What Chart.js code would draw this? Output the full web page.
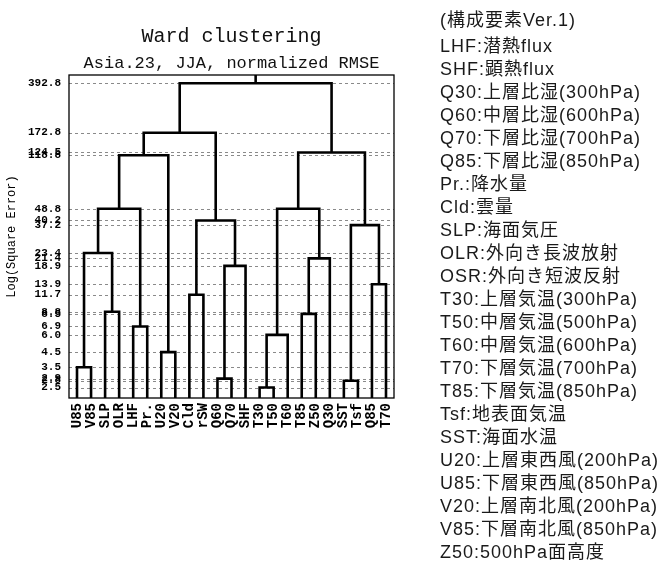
<!DOCTYPE html>
<html>
<head>
<meta charset="utf-8">
<script src="https://cdn.jsdelivr.net/npm/chart.js@4.4.0/dist/chart.umd.min.js"></script>
<style>
  html, body { margin: 0; padding: 0; background: #fff; }
  #wrap { width: 668px; height: 562px; position: relative; }
</style>
</head>
<body>
<div id="wrap"><canvas id="c" width="668" height="562"></canvas></div>
<script>
// Leaves in dendrogram order
const leafLabels = ['U85','V85','SLP','OLR','LHF','Pr.','U20','V20','Cld','rSW','Q60','Q70','SHF',
                    'T30','T50','T60','T85','Z50','Q30','SST','Tsf','Q85','T70'];

// Ward merges: child ids are leaf indices (0..22) or 23 + merge index
const mergeLeft   = [0, 2, 4, 6, 8, 10, 28, 13, 30, 16, 32, 19, 21, 34, 23, 37, 38, 27, 39, 31, 42, 41];
const mergeRight  = [1, 3, 5, 7, 9, 11, 12, 14, 15, 17, 18, 20, 22, 35, 24, 25, 26, 29, 40, 33, 36, 43];
const mergeHeight = [3.5, 8.8, 6.9, 4.5, 11.7, 2.9, 18.9, 2.5, 6.0, 8.5, 21.4, 2.8, 13.9, 37.2,
                     23.4, 48.8, 118.8, 40.2, 172.8, 48.8, 124.5, 392.8];

// Side notes
const noteHeading = '(構成要素Ver.1)';
const noteLines = [
  'LHF:潜熱flux', 'SHF:顕熱flux',
  'Q30:上層比湿(300hPa)', 'Q60:中層比湿(600hPa)', 'Q70:下層比湿(700hPa)', 'Q85:下層比湿(850hPa)',
  'Pr.:降水量', 'Cld:雲量', 'SLP:海面気圧', 'OLR:外向き長波放射', 'OSR:外向き短波反射',
  'T30:上層気温(300hPa)', 'T50:中層気温(500hPa)', 'T60:中層気温(600hPa)', 'T70:下層気温(700hPa)',
  'T85:下層気温(850hPa)', 'Tsf:地表面気温', 'SST:海面水温',
  'U20:上層東西風(200hPa)', 'U85:下層東西風(850hPa)', 'V20:上層南北風(200hPa)', 'V85:下層南北風(850hPa)',
  'Z50:500hPa面高度'
];

const Y_MIN = 2.1, Y_MAX = 451;
const nLeaf = leafLabels.length;

// Node positions: leaves sit on the axis floor, clusters centred over children
const nodeX = leafLabels.map((_, i) => i);
const nodeY = leafLabels.map(() => Y_MIN);
mergeHeight.forEach((h, k) => {
  const a = mergeLeft[k], b = mergeRight[k];
  nodeX.push((nodeX[a] + nodeX[b]) / 2);
  nodeY.push(h);
});

const datasets = mergeHeight.map((h, k) => {
  const a = mergeLeft[k], b = mergeRight[k];
  return {
    data: [
      { x: nodeX[a], y: nodeY[a] }, { x: nodeX[a], y: h },
      { x: nodeX[b], y: h },        { x: nodeX[b], y: nodeY[b] }
    ],
    borderColor: '#000', borderWidth: 2.6, pointRadius: 0, tension: 0, fill: false, clip: false
  };
});
const rootId = nLeaf + mergeHeight.length - 1;
datasets.push({
  data: [{ x: nodeX[rootId], y: nodeY[rootId] }, { x: nodeX[rootId], y: Y_MAX }],
  borderColor: '#000', borderWidth: 2.6, pointRadius: 0, fill: false, clip: false
});

const tickValues = [...new Set(mergeHeight)].sort((p, q) => p - q);

const decor = {
  id: 'decor',
  beforeDatasetsDraw(chart) {
    const ctx = chart.ctx, ca = chart.chartArea, ys = chart.scales.y;
    ctx.save();
    ctx.strokeStyle = '#8a8a8a';
    ctx.lineWidth = 1;
    ctx.setLineDash([3, 3]);
    tickValues.forEach(v => {
      const y = Math.round(ys.getPixelForValue(v)) + 0.5;
      ctx.beginPath(); ctx.moveTo(ca.left, y); ctx.lineTo(ca.right, y); ctx.stroke();
    });
    ctx.restore();
  },
  afterDatasetsDraw(chart) {
    const ctx = chart.ctx, ca = chart.chartArea;
    ctx.save();
    ctx.strokeStyle = '#000';
    ctx.lineWidth = 1.3;
    ctx.strokeRect(ca.left, ca.top, ca.right - ca.left, ca.bottom - ca.top);
    // titles
    const cx = (ca.left + ca.right) / 2;
    ctx.fillStyle = '#111';
    ctx.textAlign = 'center';
    ctx.textBaseline = 'middle';
    ctx.font = '20px "Liberation Mono", monospace';
    ctx.fillText('Ward clustering', cx, 37);
    ctx.font = '17px "Liberation Mono", monospace';
    ctx.fillText('Asia.23, JJA, normalized RMSE', cx, 63);
    // side notes
    ctx.textAlign = 'left';
    ctx.fillStyle = '#1a1a1a';
    ctx.font = '18px "Liberation Sans", "Noto Sans CJK JP", sans-serif';
    if ('letterSpacing' in ctx) ctx.letterSpacing = '1px';
    ctx.fillText(noteHeading, 440, 21);
    noteLines.forEach((s, i) => ctx.fillText(s, 440, 47 + 23 * i));
    ctx.restore();
  }
};

new Chart(document.getElementById('c'), {
  type: 'line',
  data: { datasets },
  options: {
    responsive: false,
    animation: false,
    events: [],
    layout: { padding: { left: 0, top: 75, right: 274, bottom: 104 } },
    plugins: { legend: { display: false }, tooltip: { enabled: false }, title: { display: false } },
    scales: {
      x: {
        type: 'linear', min: -0.57, max: nLeaf - 1 + 0.57,
        grid: { display: false, drawTicks: false }, border: { display: false },
        afterBuildTicks(s) { s.ticks = leafLabels.map((_, i) => ({ value: i })); },
        afterFit(s) { s.height = 60; s.paddingLeft = 0; s.paddingRight = 0; },
        ticks: {
          autoSkip: false, minRotation: 90, maxRotation: 90, padding: 5,
          color: '#000', font: { family: '"Liberation Mono", monospace', size: 14, weight: 'bold' },
          callback: v => leafLabels[v]
        }
      },
      y: {
        type: 'logarithmic', min: Y_MIN, max: Y_MAX,
        grid: { display: false, drawTicks: false }, border: { display: false },
        afterBuildTicks(s) { s.ticks = tickValues.map(v => ({ value: v })); },
        afterFit(s) { s.width = 69; s.paddingTop = 0; s.paddingBottom = 0; },
        ticks: {
          autoSkip: false, padding: 8, color: '#000',
          font: { family: '"Liberation Mono", monospace', size: 11, weight: 'bold' },
          callback: v => Number(v).toFixed(1)
        },
        title: {
          display: true, text: 'Log(Square Error)', color: '#000',
          font: { family: '"Liberation Mono", monospace', size: 12 }, padding: { top: 5, bottom: 0 }
        }
      }
    }
  },
  plugins: [decor]
});
</script>
</body>
</html>
